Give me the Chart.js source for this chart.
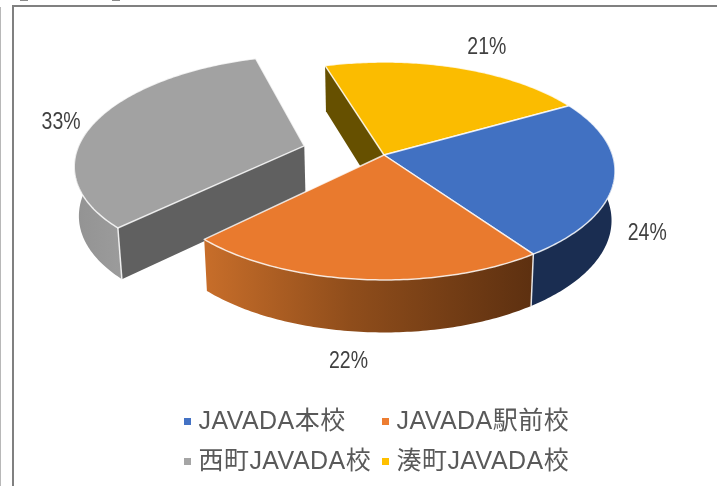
<!DOCTYPE html>
<html lang="ja">
<head>
<meta charset="utf-8">
<title>JAVADA</title>
<script src="https://cdn.jsdelivr.net/npm/chart.js@4"></script>
<style>
html,body{margin:0;padding:0;background:#fff;}
#wrap{position:relative;width:717px;height:486px;overflow:hidden;background:#fff;}
#wrap canvas{position:absolute;left:0;top:0;}
.f{position:absolute;}
</style>
</head>
<body>
<div id="wrap">
  <canvas id="c" width="717" height="486"></canvas>
  <div class="f" style="left:12px;top:5px;width:705px;height:2px;background:#808080"></div>
  <div class="f" style="left:12px;top:5px;width:2px;height:481px;background:#808080"></div>
  <div class="f" style="left:0;top:7px;width:1px;height:479px;background:#b8b8b8"></div>
  <div class="f" style="left:20px;top:0;width:8px;height:1px;background:#8a8a8a"></div>
  <div class="f" style="left:112px;top:0;width:8px;height:1px;background:#8a8a8a"></div>
</div>
<script>
// ---- data ----
const categories = ['JAVADA本校', 'JAVADA駅前校', '西町JAVADA校', '湊町JAVADA校'];
const shares = [23.5, 22.2, 32.8, 21.5];
const percentLabels = ['24%', '22%', '33%', '21%'];
const topColors = ['#4171c2', '#e97a2e', '#a2a2a2', '#fbbc00'];
const legendColors = ['#4472c4', '#ed7d31', '#a5a5a5', '#ffc000'];
const explode = [0, 0, 0.364, 0];

// ---- projection of the tilted disc ----
const CX = 384, CY = 155, A = 228.5, B = 106.6, K = 0.1468;
function proj(x, y, low) {
  const w = 1 - K * y;
  let X = CX + A * x / w, Y = CY + B * y / w;
  if (low) { X = CX + (X - CX) * 0.985; Y += 49 + 3.5 * y; }
  return [X, Y];
}
function offs(i, a0, a1) {
  const m = (a0 + a1) / 2;
  return [explode[i] * Math.cos(m), explode[i] * Math.sin(m)];
}
function rim(i, a0, a1, t, low) {
  const [ox, oy] = offs(i, a0, a1);
  return proj(ox + Math.cos(t), oy + Math.sin(t), low);
}
function tracePath(ctx, pts, move) {
  pts.forEach((p, n) => (n === 0 && move) ? ctx.moveTo(p[0], p[1]) : ctx.lineTo(p[0], p[1]));
}
function samples(a, b) {
  const n = Math.max(2, Math.ceil(Math.abs(b - a) / 0.015)), out = [];
  for (let j = 0; j <= n; j++) out.push(a + (b - a) * j / n);
  return out;
}
function wall(ctx, i, a0, a1, from, to, fill) {
  const up = samples(from, to).map(t => rim(i, a0, a1, t, false));
  const dn = samples(to, from).map(t => rim(i, a0, a1, t, true));
  ctx.beginPath(); tracePath(ctx, up, true); tracePath(ctx, dn, false); ctx.closePath();
  ctx.fillStyle = fill; ctx.fill();
}
function edge(ctx, p, q, col, w) {
  ctx.beginPath(); ctx.moveTo(p[0], p[1]); ctx.lineTo(q[0], q[1]);
  ctx.strokeStyle = col; ctx.lineWidth = w; ctx.stroke();
}
function cutFace(ctx, i, a0, a1, t, fill) {
  const [ox, oy] = offs(i, a0, a1);
  const e = [ox + Math.cos(t), oy + Math.sin(t)];
  const p1 = proj(ox, oy, false), p2 = proj(e[0], e[1], false);
  const p3 = proj(e[0], e[1], true), p4 = proj(ox, oy, true);
  ctx.beginPath(); tracePath(ctx, [p1, p2, p3, p4], true); ctx.closePath();
  ctx.fillStyle = fill; ctx.fill();
}
function topFace(ctx, i, a0, a1) {
  const [ox, oy] = offs(i, a0, a1);
  const pts = [proj(ox, oy, false)].concat(samples(a0, a1).map(t => rim(i, a0, a1, t, false)));
  ctx.beginPath(); tracePath(ctx, pts, true); ctx.closePath();
  ctx.fillStyle = topColors[i]; ctx.fill();
  ctx.strokeStyle = 'rgba(255,255,255,0.8)'; ctx.lineWidth = 1.5; ctx.lineJoin = 'round'; ctx.stroke();
}

const pie3d = {
  id: 'pie3d',
  beforeDatasetDraw(chart) {
    const ctx = chart.ctx, arcs = chart.getDatasetMeta(0).data;
    const ang = arcs.map(a => [a.startAngle, a.endAngle]);
    const [b0, b1] = ang[0], [o0, o1] = ang[1], [g0, g1] = ang[2], [y0, y1] = ang[3];
    ctx.save();
    // gray slice, pulled out
    const gg = ctx.createLinearGradient(76, 0, 120, 0);
    gg.addColorStop(0, '#939393'); gg.addColorStop(1, '#9b9b9b');
    wall(ctx, 2, g0, g1, g0, Math.PI + Math.asin(K), gg);
    cutFace(ctx, 2, g0, g1, g0, '#606060');
    edge(ctx, rim(2, g0, g1, g0, false), rim(2, g0, g1, g0, true), 'rgba(255,255,255,0.85)', 1.5);
    topFace(ctx, 2, g0, g1);
    // yellow inner wall
    cutFace(ctx, 3, y0, y1, y0, '#665000');
    // blue and orange outer walls
    wall(ctx, 0, b0, b1, -Math.asin(K), b1, '#1a2d51');
    const og = ctx.createLinearGradient(203, 0, 533, 0);
    og.addColorStop(0, '#c86e2a'); og.addColorStop(0.45, '#8f4d1b'); og.addColorStop(1, '#5d3010');
    wall(ctx, 1, o0, o1, o0, o1, og);
    edge(ctx, rim(0, b0, b1, b1, false), rim(0, b0, b1, b1, true), 'rgba(255,255,255,0.85)', 1.5);
    // top faces
    [3, 0, 1].forEach(i => topFace(ctx, i, ang[i][0], ang[i][1]));
    ctx.restore();
    return false;
  },
  afterDatasetsDraw(chart) {
    const ctx = chart.ctx, arcs = chart.getDatasetMeta(0).data;
    ctx.save();
    // percentage labels
    const reach = [1.15, 1.19, 1.17, 1.3], below = [true, true, false, false];
    const nudgeX = [1, -8, 0, 10], nudgeY = [1, 0, 5, 2];
    ctx.font = "23.5px 'Liberation Sans'";
    ctx.fillStyle = '#404040'; ctx.textAlign = 'center'; ctx.textBaseline = 'middle';
    arcs.forEach((a, i) => {
      const m = (a.startAngle + a.endAngle) / 2, [ox, oy] = offs(i, a.startAngle, a.endAngle);
      const p = proj(ox + reach[i] * Math.cos(m), oy + reach[i] * Math.sin(m), below[i]);
      ctx.fillText(percentLabels[i], p[0] + nudgeX[i], p[1] + nudgeY[i], 39);
    });
    // two-column legend
    ctx.font = "25px 'Liberation Sans','Noto Sans CJK JP'";
    ctx.letterSpacing = '0.45px';
    ctx.textAlign = 'left';
    const col = [187.5, 385.5], row = [422, 462];
    categories.forEach((name, i) => {
      const x = col[i % 2], y = row[Math.floor(i / 2)];
      ctx.fillStyle = legendColors[i]; ctx.fillRect(x - 3.5, y - 4, 7, 7);
      ctx.fillStyle = '#595959'; ctx.fillText(name, x + 11, y);
    });
    ctx.restore();
  }
};

new Chart(document.getElementById('c'), {
  type: 'pie',
  data: { labels: categories, datasets: [{ data: shares, backgroundColor: topColors, borderWidth: 0 }] },
  options: {
    responsive: false,
    animation: false,
    rotation: 60.3,
    plugins: { legend: { display: false }, tooltip: { enabled: false } }
  },
  plugins: [pie3d]
});
</script>
</body>
</html>
